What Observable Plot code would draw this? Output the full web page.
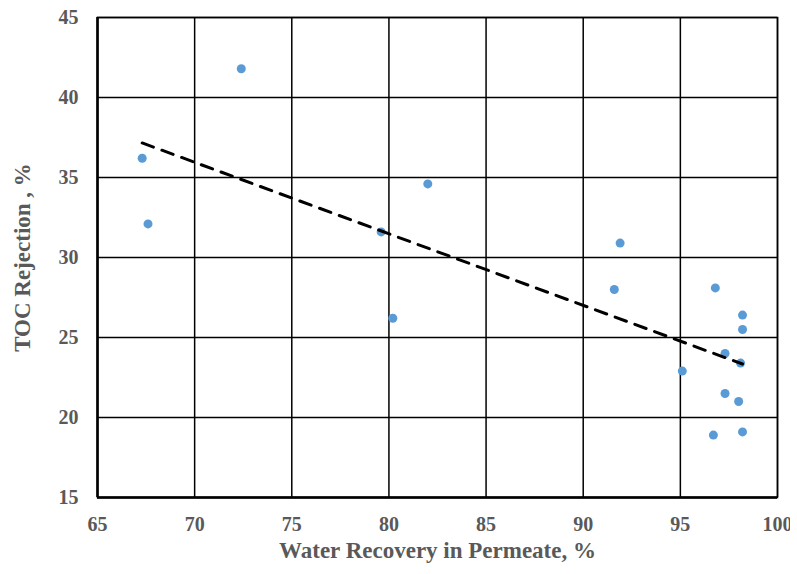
<!DOCTYPE html>
<html>
<head>
<meta charset="utf-8">
<script src="https://cdn.jsdelivr.net/npm/d3@7"></script>
<script src="https://cdn.jsdelivr.net/npm/@observablehq/plot@0.6"></script>
<style>
  html, body { margin: 0; padding: 0; background: #fff; overflow: hidden; }
  svg text { font-family: "Liberation Serif", "Times New Roman", serif; font-weight: bold; }
</style>
</head>
<body>
<div id="chart"></div>
<script>
const recovery = [67.3, 67.6, 72.4, 79.6, 80.2, 82.0, 91.6, 91.9, 95.1, 96.8, 98.2, 98.2, 97.3, 98.1, 97.3, 98.0, 96.7, 98.2];
const rejection = [36.2, 32.1, 41.8, 31.6, 26.2, 34.6, 28.0, 30.9, 22.9, 28.1, 26.4, 25.5, 24.0, 23.4, 21.5, 21.0, 18.9, 19.1];
const xTicks = [65, 70, 75, 80, 85, 90, 95, 100];
const yTicks = [15, 20, 25, 30, 35, 40, 45];
const xTitle = "Water Recovery in Permeate, %";
const yTitle = "TOC Rejection , %";

const points = recovery.map((x, i) => ({x, y: rejection[i]}));

// least-squares linear trendline over data range
const mx = d3.mean(recovery), my = d3.mean(rejection);
const slope = d3.sum(points, p => (p.x - mx) * (p.y - my)) / d3.sum(points, p => (p.x - mx) ** 2);
const intercept = my - slope * mx;
const [x0, x1] = d3.extent(recovery);
const trend = [x0, x1].map(x => ({x, y: intercept + slope * x}));

const gray = "#595959";
const chart = Plot.plot({
  width: 790,
  height: 574,
  marginLeft: 97,
  marginRight: 13,
  marginTop: 17,
  marginBottom: 77,
  style: {fontFamily: "Liberation Serif, serif", fontWeight: "bold", fontSize: "20px", color: gray, background: "#fff"},
  x: {domain: [65, 100]},
  y: {domain: [15, 45]},
  marks: [
    Plot.gridX(xTicks, {stroke: "#000", strokeOpacity: 1, strokeWidth: 1.5}),
    Plot.gridY(yTicks, {stroke: "#000", strokeOpacity: 1, strokeWidth: 1.5}),
    Plot.frame({stroke: "#000", strokeWidth: 1.5}),
    Plot.ruleX([65], {stroke: "#000", strokeWidth: 2.5}),
    Plot.ruleY([15], {stroke: "#000", strokeWidth: 2.5}),
    Plot.axisX(xTicks, {tickSize: 0, tickPadding: 19, label: null, fill: gray, fontSize: 20, fontWeight: "bold"}),
    Plot.axisY(yTicks, {tickSize: 0, tickPadding: 19, label: null, fill: gray, fontSize: 20, fontWeight: "bold"}),
    Plot.text([xTitle], {frameAnchor: "bottom", dy: 60, textAnchor: "middle", fontSize: 23, fill: gray, fontWeight: "bold"}),
    Plot.text([yTitle], {frameAnchor: "left", dx: -75, textAnchor: "middle", rotate: -90, fontSize: 23, fill: gray, fontWeight: "bold"}),
    Plot.dot(points, {x: "x", y: "y", r: 4.5, fill: "#5B9BD5", stroke: "none"}),
    Plot.line(trend, {x: "x", y: "y", stroke: "#000", strokeWidth: 3, strokeDasharray: "12,9"})
  ]
});
document.getElementById("chart").appendChild(chart);
</script>
</body>
</html>
